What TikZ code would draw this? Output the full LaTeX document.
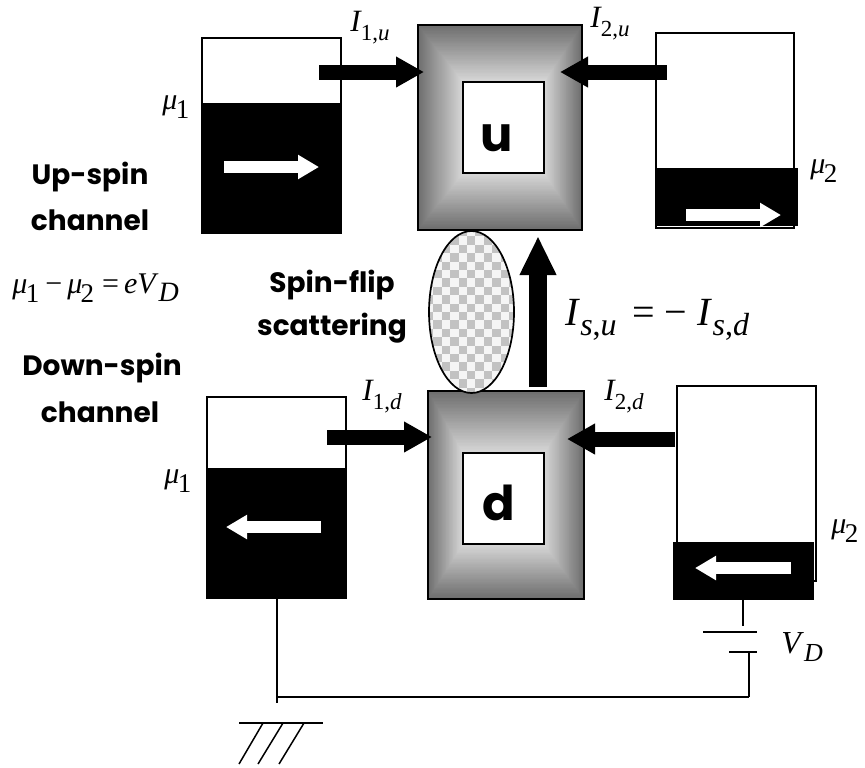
\documentclass[tikz,border=0pt]{standalone}
\usepackage{fontspec}
\usepackage{tikz}
\usetikzlibrary{arrows.meta,shapes.geometric}
\setmainfont{Liberation Serif}
\newfontfamily\labelfont{Poppins}[BoldFont={Poppins Bold}]

\newcommand{\curlabel}[1]{\fontsize{15.5}{18}\selectfont\textit{I}\kern-.5pt\raisebox{-4.5pt}{\fontsize{11.5}{12}\selectfont #1}}
\newcommand{\mulabel}[1]{\fontsize{15}{18}\selectfont\textit{μ}\kern-.8pt\raisebox{-4.5pt}{\fontsize{13.5}{16}\selectfont #1}}
\newcommand{\biglabel}[1]{\textit{I}\raisebox{-5pt}{\fontsize{16}{16}\selectfont #1}}
% concentric rectangles, outer box to inner box
\newcommand{\glowbox}[8]{
  \foreach \t in {0,...,44} {
    \pgfmathsetmacro{\k}{\t/44}
    \pgfmathsetmacro{\lite}{43+42*\k}
    \fill[fill=white!\lite!black]
      ({#1+(#5-#1)*\k},{#2+(#6-#2)*\k}) rectangle ({#3+(#7-#3)*\k},{#4+(#8-#4)*\k});
  }
}

\begin{document}
\begin{tikzpicture}
  [x=.5pt,y=-.5pt,
   reservoir/.style={draw,line width=.7pt,inner sep=0pt,fill=white},
   sea/.style={fill=black,inner sep=0pt},
   frame/.style={draw,line width=.7pt,inner sep=0pt},
   core/.style={draw,fill=white,line width=.7pt,inner sep=0pt},
   letter/.style={font=\labelfont\bfseries\fontsize{24}{28}\selectfont,inner sep=0pt},
   heading/.style={font=\labelfont\bfseries\fontsize{14}{16}\selectfont,inner sep=0pt},
   sym/.style={anchor=base west,inner sep=0pt},
   flow/.style={line width=7.5pt,-{Triangle[length=14pt,width=14.5pt]}},
   spin/.style={white,line width=6pt,-{Triangle[length=10.5pt,width=11.5pt]}},
   wire/.style={line width=.75pt}]
  \useasboundingbox (0,0) rectangle (865,767);

  % reservoirs
  \node[reservoir,minimum width=69.5pt,minimum height=97.5pt] (resa) at (271.5,135.5) {};
  \node[sea,minimum width=70.5pt,minimum height=65pt] (seaa) at (271.5,168) {};
  \node[reservoir,minimum width=69pt,minimum height=97.5pt] (resb) at (725,130.5) {};
  \node[sea,minimum width=70.5pt,minimum height=29pt] (seab) at (727.5,197) {};
  \node[reservoir,minimum width=69.5pt,minimum height=100.5pt] (resc) at (276.5,497.5) {};
  \node[sea,minimum width=70pt,minimum height=65pt] (seac) at (277,533) {};
  \node[reservoir,minimum width=69.5pt,minimum height=97.5pt] (resd) at (746.5,483.5) {};
  \node[sea,minimum width=70.5pt,minimum height=29pt] (sead) at (743.5,571) {};

  % centre boxes
  \glowbox{418}{25}{582}{230}{463}{82}{544}{173}
  \glowbox{428}{391}{584}{599}{463}{453}{544}{544}
  \node[frame,minimum width=82pt,minimum height=102.5pt] (frameu) at (500,127.5) {};
  \node[frame,minimum width=78pt,minimum height=104pt] (framed) at (506,495) {};
  \node[core,minimum width=40.5pt,minimum height=45.5pt] (coreu) at (503.5,127.5) {};
  \node[core,minimum width=40.5pt,minimum height=45.5pt] (cored) at (503.5,498.5) {};
  \node[letter] (letu) at (497,138) {u};
  \node[letter] (letd) at (499,503) {d};

  % scattering region
  \begin{scope}
    \clip (471.5,312) ellipse [x radius=42.5,y radius=81];
    \fill[white!96!black] (425,228) rectangle (518,396);
    \foreach \i in {0,...,11}
      \foreach \j in {0,...,20} {
        \pgfmathparse{int(mod(\i+\j,2))}
        \ifnum\pgfmathresult=0
          \fill[white!76!black] ({425+8.4*\i},{228+8.4*\j}) rectangle ++(8.4,8.4);
        \fi
      }
  \end{scope}
  \node[draw,ellipse,line width=.85pt,inner sep=0pt,minimum width=42.5pt,minimum height=81pt] (scat) at (471.5,312) {};

  % arrow ends
  \coordinate (ia) at (319,72);   \coordinate (ua) at (424,72);
  \coordinate (ib) at (667,72);   \coordinate (ub) at (560,72);
  \coordinate (ic) at (327,437);  \coordinate (dc) at (432,437);
  \coordinate (id) at (675,439);  \coordinate (dd) at (567,439);
  \coordinate (sa) at (224,167);  \coordinate (ta) at (319,167);
  \coordinate (sb) at (686,215);  \coordinate (tb) at (781,215);
  \coordinate (sc) at (321,527);  \coordinate (tc) at (226,527);
  \coordinate (sd) at (791,568);  \coordinate (td) at (695,568);
  \coordinate (fa) at (538,387);  \coordinate (fb) at (538,236);

  \foreach \from/\to in {ia/ua,ib/ub,ic/dc,id/dd}
    \draw[flow] (\from) -- (\to);
  \foreach \from/\to in {sa/ta,sb/tb,sc/tc,sd/td}
    \draw[spin] (\from) -- (\to);
  \draw[line width=9pt,-{Triangle[length=19.5pt,width=17pt]}] (fa) -- (fb);

  % circuit
  \coordinate (topa) at (277,598);
  \coordinate (gnda) at (277,703);
  \coordinate (cora) at (277,697);
  \coordinate (corb) at (749,697);
  \coordinate (batb) at (749,652);
  \coordinate (bata) at (743,600);
  \coordinate (batc) at (743,626);
  \coordinate (pa) at (703,632);  \coordinate (pb) at (757,632);
  \coordinate (pc) at (729,652);  \coordinate (pd) at (757,652);
  \coordinate (ga) at (239,723);  \coordinate (gb) at (323,723);
  \foreach \from/\to in {topa/gnda,cora/corb,corb/batb,bata/batc,pa/pb,pc/pd,ga/gb}
    \draw[wire] (\from) -- (\to);
  \foreach \x/\u in {263/239,283/258,304/279}
    \draw[wire] (\x,723) -- (\u,764);

  % labels
  \node[heading] (upa) at (90,177) {Up-spin};
  \node[heading] (upb) at (90,220) {channel};
  \node[heading] (dna) at (102,368) {Down-spin};
  \node[heading] (dnb) at (100,412) {channel};
  \node[heading] (fla) at (332,285) {Spin-flip};
  \node[heading] (flb) at (332,328) {scattering};

  \node[sym] (cua) at (350,31) {\curlabel{1,\textit{u}}};
  \node[sym] (cub) at (590,27) {\curlabel{2,\textit{u}}};
  \node[sym] (cda) at (362,400) {\curlabel{1,\textit{d}}};
  \node[sym] (cdb) at (604,400) {\curlabel{2,\textit{d}}};
  \node[sym] (mua) at (162,109) {\mulabel{1}};
  \node[sym] (mub) at (810,173) {\mulabel{2}};
  \node[sym] (muc) at (164,483) {\mulabel{1}};
  \node[sym] (mud) at (831,533) {\mulabel{2}};
  \node[sym] (eqv) at (12,293) {\mulabel{1}\kern3pt\fontsize{15}{18}\selectfont−\kern2.5pt\mulabel{2}\kern4pt\fontsize{15}{18}\selectfont=\kern2.5pt\textit{eV}\raisebox{-4pt}{\fontsize{14}{16}\selectfont\textit{D}}};
  \node[sym] (iss) at (565,325) {\fontsize{20}{24}\selectfont\biglabel{\textit{s},\textit{u}}\kern8pt=\kern4.5pt−\kern5.5pt\biglabel{\textit{s},\textit{d}}};
  \node[sym] (vd) at (781,653) {\fontsize{16}{18}\selectfont\textit{V}\raisebox{-4pt}{\fontsize{13}{16}\selectfont\textit{D}}};

\end{tikzpicture}
\end{document}
